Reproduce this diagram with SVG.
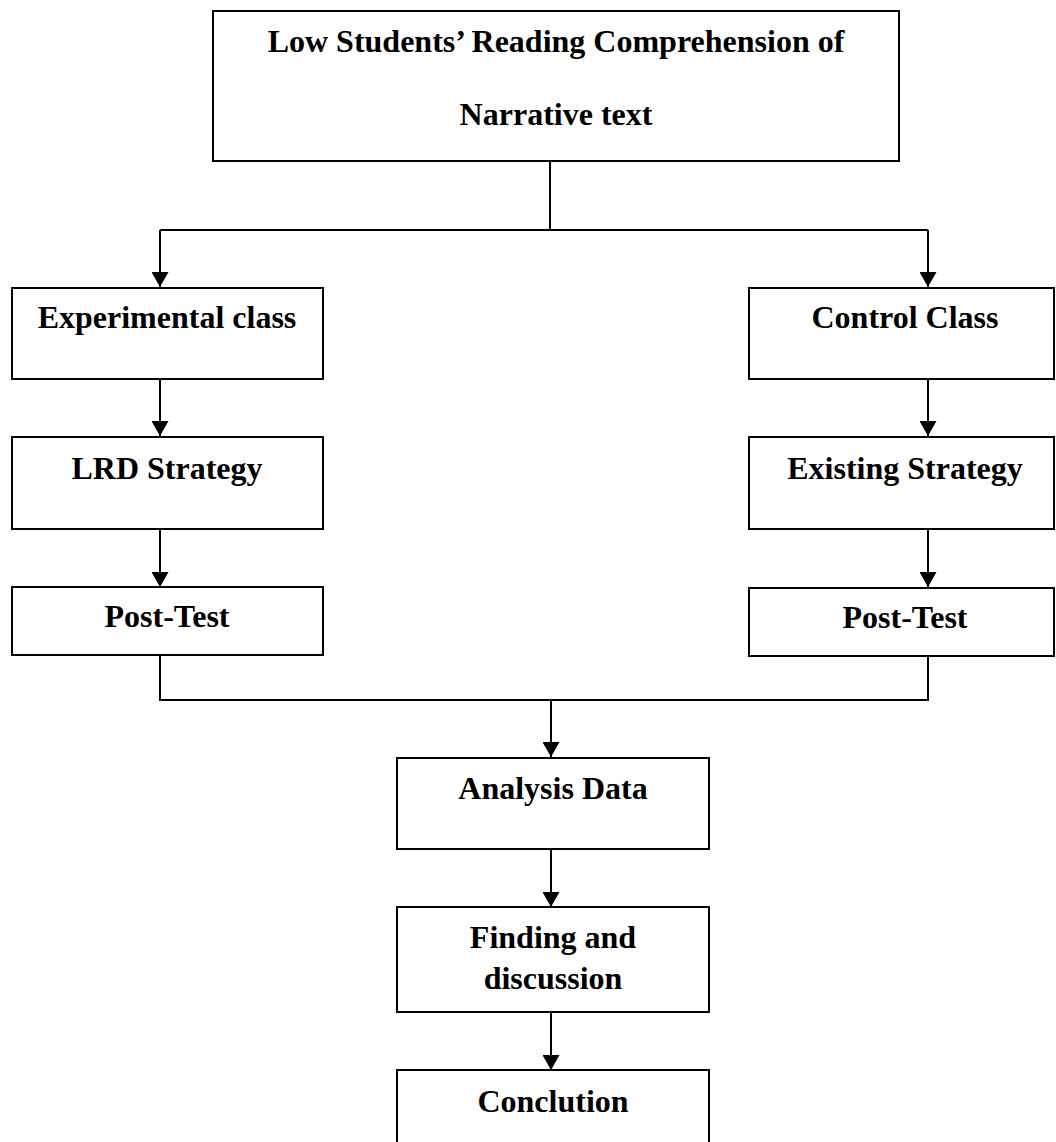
<svg xmlns="http://www.w3.org/2000/svg" width="1056" height="1142" viewBox="0 0 1056 1142">
<style>
.box{fill:#fff;stroke:#000;stroke-width:2}
.t{font-family:"Liberation Serif","Times New Roman",serif;font-weight:bold;font-size:32px;fill:#000;text-anchor:middle}
.c{fill:none;stroke:#000;stroke-width:2}
</style>
<defs>
<marker id="ah" markerWidth="15" markerHeight="17" refX="15" refY="8.5" orient="auto" markerUnits="userSpaceOnUse" viewBox="0 0 15 17">
<path d="M0,0 L15,8.5 L0,17 Z" fill="#000"/>
</marker>
</defs>
<rect width="1056" height="1142" fill="#fff"/>
<g id="connectors">
<path class="c" d="M550,161 V230"/>
<path class="c" d="M160,230 H928"/>
<path class="c" d="M160,230 V287" marker-end="url(#ah)"/>
<path class="c" d="M928,230 V287" marker-end="url(#ah)"/>
<path class="c" d="M160,380 V436" marker-end="url(#ah)"/>
<path class="c" d="M928,380 V436" marker-end="url(#ah)"/>
<path class="c" d="M160,529 V587" marker-end="url(#ah)"/>
<path class="c" d="M928,529 V587" marker-end="url(#ah)"/>
<path class="c" d="M160,655 V700 H928 V656"/>
<path class="c" d="M551,700 V757" marker-end="url(#ah)"/>
<path class="c" d="M551,849 V907" marker-end="url(#ah)"/>
<path class="c" d="M551,1012 V1070" marker-end="url(#ah)"/>
</g>
<g id="n_top"><rect class="box" x="213" y="11" width="686" height="150"/>
<text class="t" x="556" y="52">Low Students’ Reading Comprehension of</text>
<text class="t" x="556" y="125">Narrative text</text></g>
<g id="n_exp"><rect class="box" x="12" y="288" width="311" height="91"/><text class="t" x="167" y="328">Experimental class</text></g>
<g id="n_lrd"><rect class="box" x="12" y="437" width="311" height="92"/><text class="t" x="167" y="479">LRD Strategy</text></g>
<g id="n_post1"><rect class="box" x="12" y="587" width="311" height="68"/><text class="t" x="167" y="627">Post-Test</text></g>
<g id="n_ctrl"><rect class="box" x="749" y="288" width="305" height="91"/><text class="t" x="905" y="328">Control Class</text></g>
<g id="n_exist"><rect class="box" x="749" y="437" width="305" height="92"/><text class="t" x="905" y="479">Existing Strategy</text></g>
<g id="n_post2"><rect class="box" x="749" y="588" width="305" height="68"/><text class="t" x="905" y="628">Post-Test</text></g>
<g id="n_analysis"><rect class="box" x="397" y="758" width="312" height="91"/><text class="t" x="553" y="799">Analysis Data</text></g>
<g id="n_finding"><rect class="box" x="397" y="907" width="312" height="105"/><text class="t" x="553" y="948">Finding and</text><text class="t" x="553" y="989">discussion</text></g>
<g id="n_concl"><rect class="box" x="397" y="1070" width="312" height="90"/><text class="t" x="553" y="1112">Conclution</text></g>
</svg>
